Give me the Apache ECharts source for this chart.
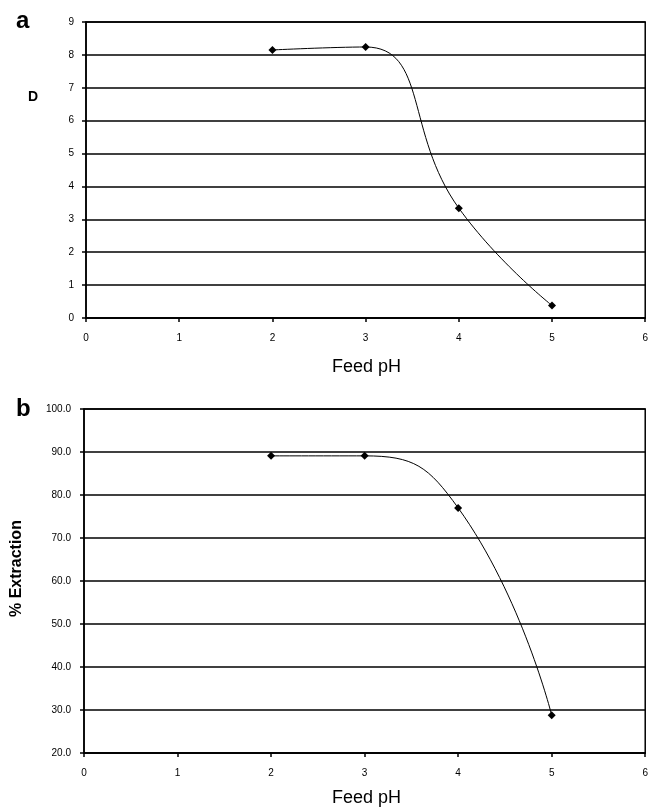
<!DOCTYPE html>
<html>
<head>
<meta charset="utf-8">
<script src="https://cdn.jsdelivr.net/npm/echarts@6/dist/echarts.min.js"></script>
<style>
html,body{margin:0;padding:0;background:#fff;}
#c{width:651px;height:810px;}
</style>
</head>
<body>
<div id="c"></div>
<script>
// Data
var feedPH = [2, 3, 4, 5];
var dValues = [8.15, 8.24, 3.34, 0.38];
var extractionValues = [89.1, 89.1, 77.0, 28.8];
var panelLabels = ['a', 'b'];
var xTitle = 'Feed pH';
var yTitleA = 'D';
var yTitleB = '% Extraction';

var chart = echarts.init(document.getElementById('c'), null, {renderer: 'canvas'});

function pairs(xs, ys){ return xs.map(function(x,i){ return [x, ys[i]]; }); }

var FF = 'Liberation Sans, Arial, sans-serif';
var axisFont = {fontFamily: FF, fontSize: 10, color: '#000'};

function xAxisCfg(gi){
  return {
    type: 'value', gridIndex: gi, min: 0, max: 6, interval: 1,
    axisLine: {show: true, onZero: false, lineStyle: {color: '#000', width: 1.5}},
    axisTick: {show: true, length: 4, lineStyle: {color: '#000', width: 1.5}},
    axisLabel: Object.assign({margin: 15}, axisFont),
    splitLine: {show: false}
  };
}

var option = {
  animation: false,
  backgroundColor: '#fff',
  title: [
    {text: panelLabels[0], left: 11, top: 4, textStyle: {fontFamily: FF, fontSize: 24, fontWeight: 'bold', color: '#000'}},
    {text: panelLabels[1], left: 11, top: 392, textStyle: {fontFamily: FF, fontSize: 24, fontWeight: 'bold', color: '#000'}}
  ],
  graphic: [
    {type: 'text', left: 28, top: 90, style: {text: yTitleA, font: 'bold 14px ' + FF, fill: '#000'}},
    {type: 'text', left: 332, top: 358, style: {text: xTitle, font: '18px ' + FF, fill: '#000'}},
    {type: 'text', left: 332, top: 789, style: {text: xTitle, font: '18px ' + FF, fill: '#000'}},
    {type: 'text', x: 9, y: 617, rotation: Math.PI/2, style: {text: yTitleB, font: 'bold 16px ' + FF, fill: '#000'}}
  ],
  grid: [
    {left: 86, right: 3, top: 22, height: 296, show: true, borderColor: '#000', borderWidth: 1.5, backgroundColor: 'transparent'},
    {left: 84, right: 4, top: 409, height: 344, show: true, borderColor: '#000', borderWidth: 1.5, backgroundColor: 'transparent'}
  ],
  xAxis: [xAxisCfg(0), xAxisCfg(1)],
  yAxis: [
    {
      type: 'value', gridIndex: 0, min: 0, max: 9, interval: 1,
      axisLine: {show: true, lineStyle: {color: '#000', width: 1.5}},
      axisTick: {show: true, length: 4, lineStyle: {color: '#000', width: 1.5}},
      axisLabel: Object.assign({margin: 12}, axisFont),
      splitLine: {show: true, lineStyle: {color: '#000', width: 1.5}}
    },
    {
      type: 'value', gridIndex: 1, min: 20, max: 100, interval: 10,
      axisLine: {show: true, lineStyle: {color: '#000', width: 1.5}},
      axisTick: {show: true, length: 4, lineStyle: {color: '#000', width: 1.5}},
      axisLabel: Object.assign({margin: 13, formatter: function(v){ return v.toFixed(1); }}, axisFont),
      splitLine: {show: true, lineStyle: {color: '#000', width: 1.5}}
    }
  ],
  series: [
    {
      type: 'line', xAxisIndex: 0, yAxisIndex: 0, data: pairs(feedPH, dValues),
      smooth: 0.5, symbol: 'diamond', symbolSize: 8,
      itemStyle: {color: '#000'}, lineStyle: {color: '#000', width: 1}
    },
    {
      type: 'line', xAxisIndex: 1, yAxisIndex: 1, data: pairs(feedPH, extractionValues),
      smooth: 0.5, symbol: 'diamond', symbolSize: 8,
      itemStyle: {color: '#000'}, lineStyle: {color: '#000', width: 1}
    }
  ]
};
chart.setOption(option);
</script>
</body>
</html>
